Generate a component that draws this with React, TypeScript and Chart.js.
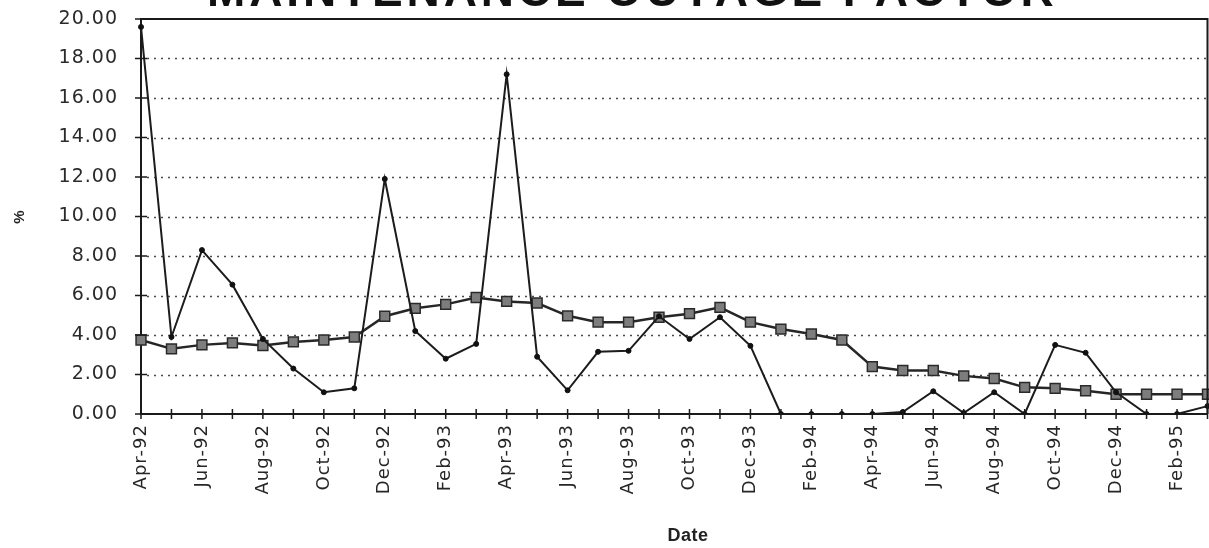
import React, { useEffect, useRef } from "react";
import { Chart, registerables } from "chart.js";

Chart.register(...registerables);

const months = [
  "Apr-92", "May-92", "Jun-92", "Jul-92", "Aug-92", "Sep-92", "Oct-92", "Nov-92", "Dec-92", "Jan-93", "Feb-93", "Mar-93",
  "Apr-93", "May-93", "Jun-93", "Jul-93", "Aug-93", "Sep-93", "Oct-93", "Nov-93", "Dec-93", "Jan-94", "Feb-94", "Mar-94",
  "Apr-94", "May-94", "Jun-94", "Jul-94", "Aug-94", "Sep-94", "Oct-94", "Nov-94", "Dec-94", "Jan-95", "Feb-95", "Mar-95",
];

const monthlyFactor = [
  19.6, 3.9, 8.3, 6.55, 3.8, 2.3, 1.1, 1.3, 11.9, 4.2, 2.8, 3.55,
  17.2, 2.9, 1.2, 3.15, 3.2, 4.95, 3.8, 4.9, 3.45, 0.0, 0.0, 0.0,
  0.0, 0.1, 1.15, 0.05, 1.1, 0.0, 3.5, 3.1, 1.1, 0.0, 0.0, 0.4,
];

const rollingFactor = [
  3.75, 3.3, 3.5, 3.6, 3.47, 3.65, 3.75, 3.9, 4.95, 5.35, 5.55, 5.9,
  5.7, 5.62, 4.97, 4.65, 4.65, 4.9, 5.08, 5.4, 4.65, 4.3, 4.05, 3.75,
  2.4, 2.2, 2.2, 1.93, 1.8, 1.35, 1.3, 1.18, 1.0, 1.0, 1.0, 1.0,
];

const yTicks = [0, 2, 4, 6, 8, 10, 12, 14, 16, 18, 20];

const chartTitle = "MAINTENANCE OUTAGE FACTOR";
const xTitle = "Date";
const yTitle = "%";

const FONT = '"Liberation Sans", Arial, sans-serif';
const TICKFONT = '"DejaVu Sans", sans-serif';

const framePlugin = {
  id: "frame",
  beforeUpdate(chart: any) {
    chart.ctx.letterSpacing = "1px";
  },
  beforeDraw(chart: any) {
    const ctx = chart.ctx;
    ctx.save();
    ctx.fillStyle = "#ffffff";
    ctx.fillRect(0, 0, chart.width, chart.height);
    ctx.restore();
  },
  beforeDatasetsDraw(chart: any) {
    const { ctx, chartArea } = chart;
    const ys = chart.scales.y;
    ctx.save();
    ctx.letterSpacing = "0px";
    ctx.strokeStyle = "#4a4a4a";
    ctx.lineWidth = 1.6;
    ctx.setLineDash([2, 5]);
    ctx.beginPath();
    for (const t of yTicks) {
      if (t === 0 || t === 20) continue;
      const py = Math.round(ys.getPixelForValue(t)) + 0.5;
      ctx.moveTo(chartArea.left + 6, py);
      ctx.lineTo(chartArea.right, py);
    }
    ctx.stroke();
    ctx.restore();
  },
  afterDraw(chart: any) {
    const { ctx, chartArea } = chart;
    ctx.save();
    // title, partly cut off at the top
    ctx.letterSpacing = "0px";
    ctx.font = `bold 46px ${FONT}`;
    ctx.fillStyle = "#111";
    ctx.textBaseline = "alphabetic";
    ctx.textAlign = "left";
    const target = 840;
    const w = ctx.measureText(chartTitle).width;
    const n = chartTitle.length;
    const ls = (target - w) / (n - 1);
    let x = 207;
    for (const ch of chartTitle) {
      ctx.fillText(ch, x, 6);
      x += ctx.measureText(ch).width + ls;
    }
    // x title
    ctx.font = `bold 18px ${FONT}`;
    ctx.letterSpacing = "0.5px";
    ctx.textAlign = "center";
    ctx.fillStyle = "#222";
    ctx.fillText(xTitle, 688, 541);
    ctx.letterSpacing = "0px";
    // frame: top and right
    ctx.strokeStyle = "#1a1a1a";
    ctx.lineWidth = 2;
    ctx.beginPath();
    ctx.moveTo(chartArea.left, chartArea.top);
    ctx.lineTo(chartArea.right, chartArea.top);
    ctx.lineTo(chartArea.right, chartArea.bottom);
    ctx.stroke();
    // cross tick marks on the axes
    const xs = chart.scales.x;
    ctx.lineWidth = 1.5;
    ctx.beginPath();
    for (let i = 0; i < months.length; i++) {
      const px = xs.getPixelForValue(i);
      ctx.moveTo(px, chartArea.bottom - 5);
      ctx.lineTo(px, chartArea.bottom + 5);
    }
    const ys = chart.scales.y;
    for (const t of yTicks) {
      const py = ys.getPixelForValue(t);
      ctx.moveTo(chartArea.left - 6, py);
      ctx.lineTo(chartArea.left + 6, py);
    }
    ctx.stroke();
    ctx.restore();
  },
};

export default function App() {
  const ref = useRef<HTMLCanvasElement | null>(null);

  useEffect(() => {
    if (!ref.current) return;
    const chart = new Chart(ref.current, {
      type: "line",
      data: {
        labels: months,
        datasets: [
          {
            label: "Monthly",
            data: monthlyFactor,
            borderColor: "#1c1c1c",
            borderWidth: 2,
            pointStyle: "circle",
            pointRadius: 2.5,
            pointBackgroundColor: "#111",
            pointBorderColor: "#111",
            pointBorderWidth: 1,
            tension: 0,
          },
          {
            label: "Rolling",
            data: rollingFactor,
            borderColor: "#262626",
            borderWidth: 2.5,
            pointStyle: "rect",
            pointRadius: 7,
            pointBackgroundColor: "#7d7d7d",
            pointBorderColor: "#2a2a2a",
            pointBorderWidth: 1.5,
            tension: 0,
          },
        ],
      },
      options: {
        animation: false,
        responsive: true,
        maintainAspectRatio: false,
        layout: { padding: { top: 19, right: 0, left: 0, bottom: 0 } },
        plugins: {
          legend: { display: false },
          tooltip: { enabled: false },
        },
        scales: {
          x: {
            type: "category",
            offset: false,
            afterFit: (s: any) => {
              s.height = 548 - 414;
              s.paddingLeft = 0;
              s.paddingRight = 0;
            },
            grid: { display: false },
            border: { display: true, color: "#1a1a1a", width: 2 },
            ticks: {
              autoSkip: false,
              maxRotation: 90,
              minRotation: 90,
              padding: 2,
              color: "#262626",
              font: { family: TICKFONT, size: 18 },
              callback: (_v: any, i: number) => (i % 2 === 0 ? months[i] : ""),
            },
            title: { display: false },
          },
          y: {
            min: 0,
            max: 20,
            afterFit: (s: any) => {
              s.width = 141;
              s.paddingTop = 0;
              s.paddingBottom = 0;
            },
            afterBuildTicks: (s: any) => {
              s.ticks = yTicks.map((v) => ({ value: v }));
            },
            border: { display: true, color: "#1a1a1a", width: 2 },
            grid: { display: false },
            ticks: {
              padding: 15,
              color: "#2a2a2a",
              font: { family: TICKFONT, size: 19 },
              callback: (v: any) => Number(v).toFixed(2),
            },
            title: {
              display: true,
              text: yTitle,
              color: "#222",
              font: { family: FONT, size: 15, weight: "bold" },
              padding: { top: 11, bottom: 0 },
            },
          },
        },
      } as any,
      plugins: [framePlugin],
    });
    return () => chart.destroy();
  }, []);

  return (
    <div style={{ position: "fixed", left: 0, top: 0, width: 1209, height: 548, overflow: "hidden", background: "#fff" }}>
      <div style={{ width: 1216, height: 548 }}>
        <canvas ref={ref} />
      </div>
    </div>
  );
}
